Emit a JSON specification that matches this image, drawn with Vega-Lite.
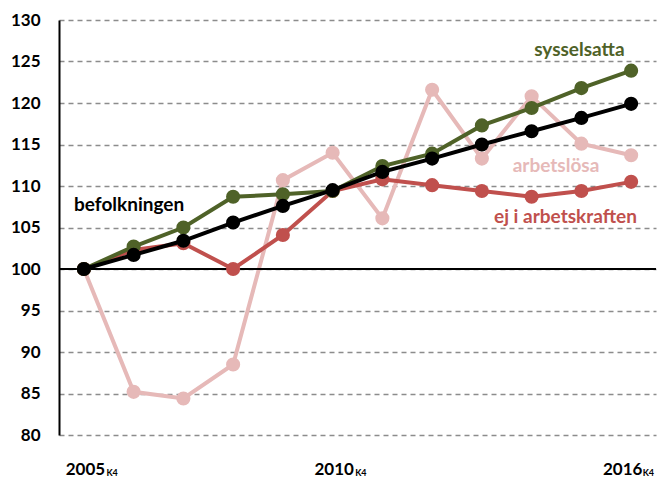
{
  "$schema": "https://vega.github.io/schema/vega-lite/v6.json",
  "width": 597,
  "height": 415,
  "autosize": "none",
  "padding": {"left": 59, "top": 20, "right": 1, "bottom": 42},
  "background": "white",
  "config": {"view": {"stroke": null}, "font": "Lato"},
  "datasets": {
    "series": [
      {"year": 2005, "series": "arbetslösa", "value": 100},
      {"year": 2006, "series": "arbetslösa", "value": 85.2},
      {"year": 2007, "series": "arbetslösa", "value": 84.4},
      {"year": 2008, "series": "arbetslösa", "value": 88.5},
      {"year": 2009, "series": "arbetslösa", "value": 110.7},
      {"year": 2010, "series": "arbetslösa", "value": 114.0},
      {"year": 2011, "series": "arbetslösa", "value": 106.1},
      {"year": 2012, "series": "arbetslösa", "value": 121.6},
      {"year": 2013, "series": "arbetslösa", "value": 113.3},
      {"year": 2014, "series": "arbetslösa", "value": 120.8},
      {"year": 2015, "series": "arbetslösa", "value": 115.1},
      {"year": 2016, "series": "arbetslösa", "value": 113.7},
      {"year": 2005, "series": "ej i arbetskraften", "value": 100},
      {"year": 2006, "series": "ej i arbetskraften", "value": 102.3},
      {"year": 2007, "series": "ej i arbetskraften", "value": 103.1},
      {"year": 2008, "series": "ej i arbetskraften", "value": 100.0},
      {"year": 2009, "series": "ej i arbetskraften", "value": 104.1},
      {"year": 2010, "series": "ej i arbetskraften", "value": 109.4},
      {"year": 2011, "series": "ej i arbetskraften", "value": 110.8},
      {"year": 2012, "series": "ej i arbetskraften", "value": 110.1},
      {"year": 2013, "series": "ej i arbetskraften", "value": 109.4},
      {"year": 2014, "series": "ej i arbetskraften", "value": 108.7},
      {"year": 2015, "series": "ej i arbetskraften", "value": 109.4},
      {"year": 2016, "series": "ej i arbetskraften", "value": 110.5},
      {"year": 2005, "series": "sysselsatta", "value": 100},
      {"year": 2006, "series": "sysselsatta", "value": 102.7},
      {"year": 2007, "series": "sysselsatta", "value": 105.0},
      {"year": 2008, "series": "sysselsatta", "value": 108.7},
      {"year": 2009, "series": "sysselsatta", "value": 109.0},
      {"year": 2010, "series": "sysselsatta", "value": 109.4},
      {"year": 2011, "series": "sysselsatta", "value": 112.4},
      {"year": 2012, "series": "sysselsatta", "value": 113.9},
      {"year": 2013, "series": "sysselsatta", "value": 117.3},
      {"year": 2014, "series": "sysselsatta", "value": 119.4},
      {"year": 2015, "series": "sysselsatta", "value": 121.8},
      {"year": 2016, "series": "sysselsatta", "value": 123.9},
      {"year": 2005, "series": "befolkningen", "value": 100},
      {"year": 2006, "series": "befolkningen", "value": 101.7},
      {"year": 2007, "series": "befolkningen", "value": 103.4},
      {"year": 2008, "series": "befolkningen", "value": 105.6},
      {"year": 2009, "series": "befolkningen", "value": 107.6},
      {"year": 2010, "series": "befolkningen", "value": 109.5},
      {"year": 2011, "series": "befolkningen", "value": 111.7},
      {"year": 2012, "series": "befolkningen", "value": 113.3},
      {"year": 2013, "series": "befolkningen", "value": 115.0},
      {"year": 2014, "series": "befolkningen", "value": 116.6},
      {"year": 2015, "series": "befolkningen", "value": 118.2},
      {"year": 2016, "series": "befolkningen", "value": 119.9}
    ],
    "labels": [
      {"series": "sysselsatta", "year": 2014.96, "value": 126.4},
      {"series": "arbetslösa", "year": 2014.49, "value": 112.4},
      {"series": "ej i arbetskraften", "year": 2014.68, "value": 106.3},
      {"series": "befolkningen", "year": 2005.91, "value": 107.7}
    ],
    "k4": [{"year": 2005}, {"year": 2010}, {"year": 2016}]
  },
  "layer": [
    {
      "data": {"name": "series"},
      "transform": [{"filter": "datum.series == 'arbetslösa'"}],
      "mark": {"type": "line", "strokeWidth": 4, "point": {"filled": true, "size": 200, "opacity": 1}},
      "encoding": {
        "x": {
          "field": "year", "type": "quantitative",
          "scale": {"domain": [2004.5, 2016.5], "nice": false, "zero": false},
          "axis": {
            "values": [2005, 2010, 2016], "format": "d", "title": null,
            "domain": false, "ticks": false, "tickSize": 0, "grid": false,
            "labelFont": "Lato", "labelFontWeight": "bold", "labelFontSize": 17, "labelColor": "black",
            "labelBaseline": "alphabetic", "labelPadding": 39,
            "labelOffset": {"condition": {"test": "datum.value == 2016", "value": -9}, "value": 1}
          }
        },
        "y": {
          "field": "value", "type": "quantitative",
          "scale": {"domain": [80, 130], "nice": false, "zero": false},
          "axis": {
            "values": [80, 85, 90, 95, 100, 105, 110, 115, 120, 125, 130],
            "title": null, "ticks": false, "tickSize": 0,
            "domainColor": "black", "domainWidth": 2,
            "grid": true, "gridColor": "#8c8c8c", "gridDash": [5, 4], "gridWidth": 1.3,
            "labelFont": "Lato", "labelFontWeight": "bold", "labelFontSize": 17, "labelColor": "black",
            "labelPadding": 19
          }
        },
        "color": {
          "field": "series", "type": "nominal", "legend": null,
          "scale": {
            "domain": ["sysselsatta", "befolkningen", "arbetslösa", "ej i arbetskraften"],
            "range": ["#4F6228", "#000000", "#E6B9B8", "#C0504D"]
          }
        }
      }
    },
    {
      "data": {"values": [{"v": 100}]},
      "mark": {"type": "rule", "color": "black", "strokeWidth": 2},
      "encoding": {"y": {"field": "v", "type": "quantitative"}}
    },
    {
      "data": {"name": "series"},
      "transform": [{"filter": "datum.series == 'ej i arbetskraften'"}],
      "mark": {"type": "line", "strokeWidth": 4, "point": {"filled": true, "size": 200, "opacity": 1}},
      "encoding": {
        "x": {"field": "year", "type": "quantitative"},
        "y": {"field": "value", "type": "quantitative"},
        "color": {"field": "series", "type": "nominal", "legend": null}
      }
    },
    {
      "data": {"name": "series"},
      "transform": [{"filter": "datum.series == 'sysselsatta'"}],
      "mark": {"type": "line", "strokeWidth": 4, "point": {"filled": true, "size": 200, "opacity": 1}},
      "encoding": {
        "x": {"field": "year", "type": "quantitative"},
        "y": {"field": "value", "type": "quantitative"},
        "color": {"field": "series", "type": "nominal", "legend": null}
      }
    },
    {
      "data": {"name": "series"},
      "transform": [{"filter": "datum.series == 'befolkningen'"}],
      "mark": {"type": "line", "strokeWidth": 4, "point": {"filled": true, "size": 200, "opacity": 1}},
      "encoding": {
        "x": {"field": "year", "type": "quantitative"},
        "y": {"field": "value", "type": "quantitative"},
        "color": {"field": "series", "type": "nominal", "legend": null}
      }
    },
    {
      "data": {"name": "labels"},
      "mark": {"type": "text", "font": "Lato", "fontWeight": "bold", "fontSize": 19, "align": "center", "baseline": "middle"},
      "encoding": {
        "x": {"field": "year", "type": "quantitative"},
        "y": {"field": "value", "type": "quantitative"},
        "text": {"field": "series"},
        "color": {"field": "series", "type": "nominal", "legend": null}
      }
    },
    {
      "data": {"name": "k4"},
      "transform": [{"filter": "datum.year != 2016"}],
      "mark": {"type": "text", "text": "K4", "font": "Lato", "fontWeight": "bold", "fontSize": 9, "align": "left", "baseline": "alphabetic", "dx": 22.5, "dy": 40.5, "color": "black"},
      "encoding": {
        "x": {"field": "year", "type": "quantitative"},
        "y": {"datum": 80, "type": "quantitative"}
      }
    },
    {
      "data": {"name": "k4"},
      "transform": [{"filter": "datum.year == 2016"}],
      "mark": {"type": "text", "text": "K4", "font": "Lato", "fontWeight": "bold", "fontSize": 9, "align": "left", "baseline": "alphabetic", "dx": 11.5, "dy": 40.5, "color": "black"},
      "encoding": {
        "x": {"field": "year", "type": "quantitative"},
        "y": {"datum": 80, "type": "quantitative"}
      }
    }
  ]
}
